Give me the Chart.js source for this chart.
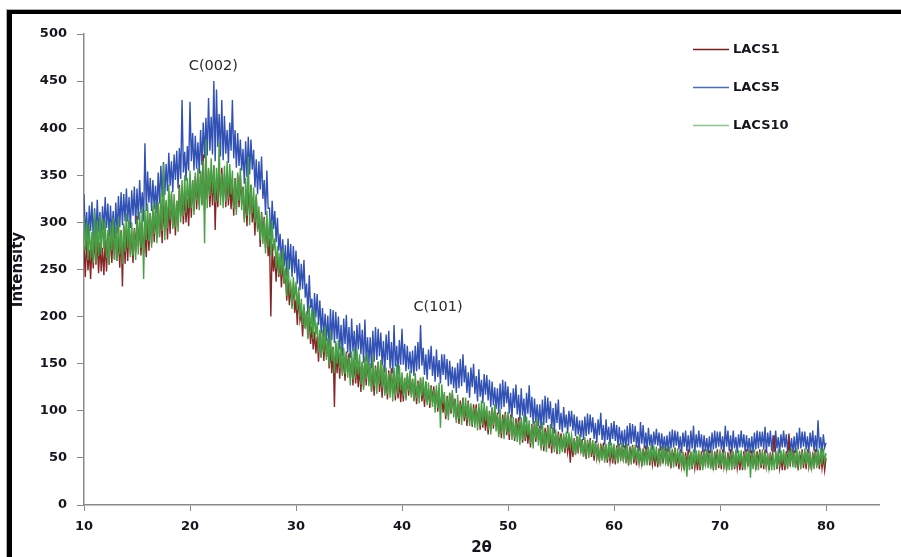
<!DOCTYPE html>
<html>
<head>
<meta charset="utf-8">
<script src="https://cdn.jsdelivr.net/npm/chart.js@4.4.1/dist/chart.umd.min.js"></script>
<style>
  html, body { margin: 0; padding: 0; background: #fff; overflow: hidden; }
  #wrap { position: relative; width: 901px; height: 557px; }
  #c { position: absolute; left: 0; top: 0; }
  #frame { position: absolute; left: 7px; top: 10px; width: 2000px; height: 2000px;
           border-left: 5px solid #000; border-top: 4px solid #000; pointer-events: none;
           box-shadow: -1px -1px 0 #b0b0b0; }
</style>
</head>
<body>
<div id="wrap">
  <canvas id="c" width="901" height="557"></canvas>
  <div id="frame"></div>
</div>
<script>
// ---- data ----
const thetaStart = 10;    // first 2θ sample
const thetaStep = 0.125;  // sampling step of the scan

const seriesNames = ['LACS1', 'LACS5', 'LACS10'];

// one group of 8 = one degree of 2θ
const lacs1 = [
275,242,284,249,271,240,277,251, 288,255,281,246,279,248,273,244,
281,248,288,255,292,257,290,261, 294,259,285,252,292,232,296,256,
292,259,301,266,288,257,294,268, 307,274,300,265,298,267,292,263,
303,270,310,277,314,279,312,283, 320,285,311,278,318,291,322,282,
321,288,330,295,317,286,323,297, 340,307,333,298,331,300,325,296,
338,305,345,312,349,314,347,318, 354,319,372,312,352,325,356,316,
351,318,360,292,347,316,353,327, 358,325,351,316,349,318,343,314,
340,307,347,314,351,316,349,320, 338,303,329,296,336,309,340,300,
319,286,328,293,305,274,311,285, 306,273,299,264,283,200,277,248,
264,237,269,242,260,231,258,235, 246,217,239,212,232,211,236,204,
218,191,225,196,204,179,210,188, 205,178,200,171,190,165,184,161,
179,152,184,157,182,153,180,157, 174,145,167,140,168,104,172,140,
161,134,168,139,157,132,163,141, 161,134,156,127,154,129,148,125,
147,120,152,125,156,127,154,131, 150,121,143,116,148,127,152,120,
141,114,148,119,137,112,143,121, 145,118,140,111,138,113,132,109,
131,110,135,114,138,116,137,118, 134,111,128,107,132,115,135,110,
125,104,131,109,123,103,127,110, 126,105,122,99,120,101,116,98,
112,91,116,95,119,97,118,99, 113,90,107,86,111,94,114,89,
105,84,111,89,103,83,107,90, 107,86,103,80,101,82,97,79,
96,75,100,79,103,81,102,83, 98,75,92,71,96,79,99,74,
90,69,96,74,88,68,92,75, 93,72,89,66,87,68,83,65,
82,61,86,65,89,67,88,69, 84,61,78,57,82,65,85,60,
76,55,82,60,74,54,78,61, 76,59,73,55,72,56,68,45,
68,51,71,54,73,55,72,58, 70,52,66,49,69,56,71,51,
64,47,68,50,61,46,65,51, 66,49,63,45,62,46,58,44,
60,43,63,46,65,47,64,50, 63,45,59,42,62,49,64,44,
59,42,63,45,56,41,60,46, 63,46,60,42,59,43,55,41,
57,40,60,43,62,44,61,47, 60,42,56,39,59,46,61,41,
55,38,59,41,52,37,56,42, 59,42,56,38,55,39,51,37,
54,37,57,40,59,41,58,44, 58,40,54,37,57,44,59,39,
55,38,59,41,52,37,56,42, 59,42,56,38,55,39,51,37,
54,37,57,40,59,41,58,44, 58,40,54,37,57,44,59,39,
55,38,59,41,52,37,56,42, 59,74,56,38,55,39,51,37,
54,37,57,40,76,41,58,44, 58,40,54,37,57,44,59,39,
55,38,59,41,52,37,56,42, 59,42,56,38,55,39,51,37,
50];

const lacs5 = [
330,285,311,278,318,291,322,282, 315,282,324,289,311,280,317,291,
327,294,320,285,318,287,312,283, 321,288,328,295,332,297,330,301,
336,301,327,294,334,307,338,298, 336,303,345,310,332,301,384,312,
354,321,347,312,345,314,339,310, 353,320,360,327,364,329,362,333,
374,339,365,332,372,345,376,336, 379,346,430,353,375,344,381,355,
428,365,395,355,392,357,385,352, 398,361,406,368,411,371,432,376,
412,372,450,365,441,380,415,370, 430,366,413,373,398,363,406,376,
430,368,398,358,395,360,388,355, 378,341,386,348,391,351,388,356,
377,337,367,330,365,335,370,325, 345,308,355,315,315,280,323,293,
312,279,305,270,288,257,282,253, 276,243,283,250,277,242,275,246,
270,235,261,228,256,229,260,220, 235,202,244,209,219,188,225,199,
224,191,217,182,209,178,203,174, 201,168,208,175,207,172,205,176,
200,165,191,158,198,171,202,162, 189,156,198,163,185,154,191,165,
193,160,186,151,197,153,178,149, 178,145,185,152,189,154,187,158,
183,148,174,141,181,154,185,145, 173,140,191,147,169,138,175,149,
187,149,171,142,169,144,163,140, 164,137,169,142,173,144,191,148,
167,138,160,133,165,144,169,137, 158,131,165,136,154,129,160,138,
160,133,155,126,153,128,147,124, 146,119,151,124,155,126,160,130,
148,119,141,114,146,125,150,118, 137,110,144,115,133,108,139,117,
138,111,133,104,131,106,125,102, 124,97,129,102,133,104,131,108,
126,97,119,92,124,103,128,96, 117,90,124,95,113,88,119,97,
127,93,115,86,113,88,107,84, 107,80,112,85,116,87,114,91,
110,81,103,76,108,87,112,80, 98,77,104,82,96,76,100,83,
100,79,96,73,94,75,90,72, 90,69,94,73,97,75,96,77,
93,70,87,66,91,74,98,69, 85,64,91,69,83,63,87,70,
89,68,85,62,83,64,79,61, 80,59,84,63,87,65,86,67,
84,61,78,57,88,65,85,60, 77,59,82,63,75,58,78,64,
81,63,77,58,76,59,73,57, 74,56,78,60,80,61,79,63,
78,59,73,55,77,62,79,57, 74,56,79,60,84,55,75,61,
79,61,75,56,74,57,71,55, 73,55,77,59,79,60,78,62,
78,59,73,55,84,62,79,57, 74,56,79,60,72,55,75,61,
79,61,75,56,74,57,71,55, 73,55,77,59,79,60,78,62,
78,59,83,55,77,62,79,57, 74,56,79,60,72,55,75,61,
79,61,75,56,74,57,71,55, 73,55,77,59,82,60,78,62,
78,59,73,55,77,62,79,57, 74,56,90,60,72,55,75,61,
66];

const lacs10 = [
307,270,300,260,297,262,290,257, 312,257,302,264,307,267,304,272,
302,262,292,255,300,270,305,260, 296,259,306,266,291,256,299,269,
310,273,303,263,300,265,293,260, 303,266,311,273,316,240,313,281,
320,280,310,273,318,288,323,278, 321,284,331,291,362,281,324,294,
340,303,333,293,330,295,323,290, 337,300,345,307,350,310,347,315,
355,315,345,308,353,323,358,313, 355,318,365,278,388,315,358,328,
368,331,361,321,358,323,385,318, 352,315,360,322,365,325,362,330,
355,315,345,308,353,323,358,313, 337,300,347,307,370,297,340,310,
337,300,330,290,317,282,310,277, 304,267,312,274,305,265,302,270,
283,251,275,245,268,244,272,236, 252,222,260,228,236,208,242,218,
237,207,231,199,219,191,213,187, 206,176,212,182,208,176,206,180,
194,162,186,156,186,162,190,154, 177,147,185,153,168,140,174,150,
175,145,169,137,167,139,161,135, 157,127,163,133,167,135,165,139,
160,128,152,122,158,134,162,126, 150,120,158,126,146,118,152,128,
154,124,148,116,146,118,140,114, 140,110,146,116,150,118,148,122,
141,116,135,111,140,121,143,114, 134,110,140,114,130,108,135,116,
136,112,131,106,130,107,125,104, 122,98,127,103,130,82,128,108,
120,95,114,90,119,100,122,93, 111,87,117,91,107,85,112,93,
114,90,109,84,108,85,103,82, 103,79,108,84,111,85,109,89,
105,80,99,75,104,85,107,78, 96,72,102,76,92,70,97,78,
99,75,94,69,93,70,88,67, 88,64,93,69,96,70,94,74,
90,65,84,60,89,70,92,63, 82,58,88,62,78,56,83,64,
86,62,81,56,80,57,75,54, 73,56,76,59,78,60,77,63,
74,56,70,53,73,60,75,55, 68,51,72,54,65,50,69,55,
69,52,66,48,65,49,61,47, 62,45,65,48,67,49,66,52,
65,47,61,44,64,51,66,46, 61,44,65,47,58,43,62,48,
64,47,61,43,60,44,56,42, 59,42,62,45,64,46,63,49,
62,44,58,41,61,48,63,43, 58,41,62,44,55,40,59,45,
60,43,57,39,56,40,52,30, 54,37,57,40,59,41,58,44,
58,40,54,37,57,44,59,39, 55,38,59,41,52,37,56,42,
59,42,56,38,55,39,51,37, 54,37,57,40,59,41,58,44,
58,40,54,37,57,44,59,29, 55,38,59,41,52,37,56,42,
59,42,56,38,55,39,51,37, 54,37,57,40,59,41,58,44,
59,41,55,38,58,45,60,40, 56,39,60,42,53,38,57,43,
60,43,57,39,56,40,52,38, 56,39,59,42,61,43,60,46,
55];

// peak annotations: [text, 2θ, intensity]
const peakLabels = [['C(002)', 22.2, 466], ['C(101)', 43.4, 210]];

// sampling grid of the scan (2θ positions of the samples)
const theta = lacs1.map((_, i) => thetaStart + i * thetaStep);

// ---- styles ----
const lineColors = ['#862626', '#3152b4', '#47a044'];
const legendColors = ['#7a1c1c', '#4a6bc2', '#88c888'];
const tickFont = { family: 'DejaVu Sans', size: 13, weight: 'bold' };
const txtColor = '#151520';
const axisColor = '#8a8a8a';

const overlayPlugin = {
  id: 'overlay',
  afterDraw(chart) {
    const c = chart.ctx;
    const xs = chart.scales.x, ys = chart.scales.y;
    c.save();
    c.font = '14.5px "DejaVu Sans"';
    c.fillStyle = '#2a2a2a';
    c.textAlign = 'center';
    c.textBaseline = 'middle';
    peakLabels.forEach(([t, px, py]) => {
      c.fillText(t, xs.getPixelForValue(px), ys.getPixelForValue(py));
    });
    const area = chart.chartArea;
    const lx = area.right - 186;
    const ly0 = area.top + 15;
    const gap = 38;
    c.font = 'bold 13px "DejaVu Sans"';
    c.textAlign = 'left';
    seriesNames.forEach((name, i) => {
      const y = ly0 + i * gap;
      c.strokeStyle = legendColors[i];
      c.lineWidth = 1.5;
      c.beginPath();
      c.moveTo(lx, y + 0.5);
      c.lineTo(lx + 36, y + 0.5);
      c.stroke();
      c.fillStyle = txtColor;
      c.fillText(name, lx + 40, y + 1);
    });
    c.restore();
  }
};

new Chart(document.getElementById('c'), {
  type: 'line',
  data: {
    labels: theta,
    datasets: [
      { label: seriesNames[0], data: lacs1, borderColor: lineColors[0], order: 1 },
      { label: seriesNames[1], data: lacs5, borderColor: lineColors[1], order: 2 },
      { label: seriesNames[2], data: lacs10, borderColor: lineColors[2], order: 0 }
    ]
  },
  options: {
    responsive: false,
    animation: false,
    events: [],
    layout: { padding: { left: 8, top: 34, right: 22, bottom: 0 } },
    elements: {
      point: { radius: 0 },
      line: { borderWidth: 1.4, tension: 0, fill: false }
    },
    plugins: { legend: { display: false }, tooltip: { enabled: false } },
    scales: {
      x: {
        type: 'linear', min: 10, max: 85,
        ticks: { stepSize: 10, includeBounds: false, font: tickFont, color: txtColor, padding: 8, maxRotation: 0 },
        grid: { drawOnChartArea: false, tickLength: 6, color: axisColor },
        border: { color: axisColor, width: 1.5 },
        title: { display: true, text: '2θ', color: txtColor,
                 font: { family: 'DejaVu Sans', size: 15, weight: 'bold' }, padding: { top: 0, bottom: 0 } },
        afterFit: s => { s.height = 52; }
      },
      y: {
        type: 'linear', min: 0, max: 500,
        ticks: { stepSize: 50, font: tickFont, color: txtColor, padding: 10 },
        grid: { drawOnChartArea: false, tickLength: 7, color: axisColor },
        border: { color: axisColor, width: 1.5 },
        title: { display: true, text: 'Intensity', color: txtColor,
                 font: { family: 'DejaVu Sans', size: 15, weight: 'bold' }, padding: { top: 1, bottom: 0 } },
        afterFit: s => { s.width = 76; }
      }
    }
  },
  plugins: [overlayPlugin]
});
</script>
</body>
</html>
